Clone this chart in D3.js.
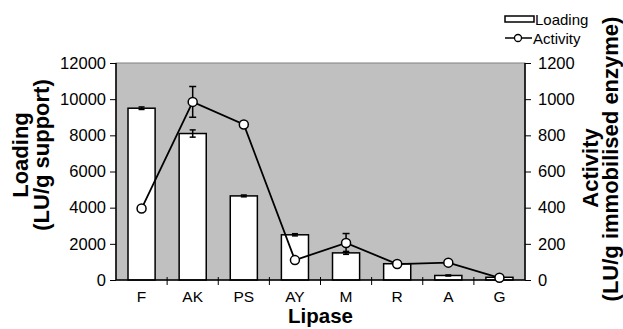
<!DOCTYPE html>
<html>
<head>
<meta charset="utf-8">
<script src="https://cdn.jsdelivr.net/npm/d3@7"></script>
<style>
  html, body { margin: 0; padding: 0; background: #fff; }
  svg { display: block; font-family: "Liberation Sans", Arial, sans-serif; }
</style>
</head>
<body>
<svg id="chart" width="623" height="329"></svg>
<script>
// Lipase immobilisation: loading (bars, left axis) and activity (line, right axis)
const categories = ["F", "AK", "PS", "AY", "M", "R", "A", "G"];
const loading = [9500, 8100, 4650, 2500, 1500, 900, 250, 150];
const loadingErr = [70, 200, 50, 60, 80, 30, 30, 20];
const activity = [395, 985, 860, 110, 205, 88, 96, 12];
const activityErr = [0, 85, 0, 0, 52, 0, 0, 0];
const loadingTicks = [0, 2000, 4000, 6000, 8000, 10000, 12000];
const activityTicks = [0, 200, 400, 600, 800, 1000, 1200];

const svg = d3.select("#chart");
const plot = { left: 116, right: 525, top: 63, bottom: 280 };

const x = d3.scaleBand()
  .domain(categories)
  .range([plot.left, plot.right])
  .paddingInner(0.47)
  .paddingOuter(0.235);
const yL = d3.scaleLinear().domain([0, 12000]).range([plot.bottom, plot.top]);
const yR = d3.scaleLinear().domain([0, 1200]).range([plot.bottom, plot.top]);
const cx = c => x(c) + x.bandwidth() / 2;

// plot area
svg.append("rect")
  .attr("x", plot.left).attr("y", plot.top)
  .attr("width", plot.right - plot.left).attr("height", plot.bottom - plot.top)
  .attr("fill", "#c0c0c0").attr("stroke", "#808080").attr("stroke-width", 1);

// bars
svg.append("g").selectAll("rect")
  .data(categories)
  .join("rect")
  .attr("x", c => x(c))
  .attr("y", (c, i) => yL(loading[i]))
  .attr("width", x.bandwidth())
  .attr("height", (c, i) => yL(0) - yL(loading[i]))
  .attr("fill", "#fff").attr("stroke", "#000").attr("stroke-width", 1.5);

// error bars helper
function errorBars(g, vals, errs, scale, cap) {
  categories.forEach((c, i) => {
    if (!errs[i]) return;
    const xc = cx(c), y1 = scale(vals[i] + errs[i]), y0 = scale(vals[i] - errs[i]);
    g.append("line").attr("x1", xc).attr("x2", xc).attr("y1", y1).attr("y2", y0);
    g.append("line").attr("x1", xc - cap).attr("x2", xc + cap).attr("y1", y1).attr("y2", y1);
    g.append("line").attr("x1", xc - cap).attr("x2", xc + cap).attr("y1", y0).attr("y2", y0);
  });
}
const ebL = svg.append("g").attr("stroke", "#000").attr("stroke-width", 1.5);
errorBars(ebL, loading, loadingErr, yL, 3);

// axes
const axL = svg.append("g")
  .attr("transform", `translate(${plot.left},0)`)
  .call(d3.axisLeft(yL).tickValues(loadingTicks).tickSize(6).tickPadding(4).tickFormat(d3.format("d")));
const axR = svg.append("g")
  .attr("transform", `translate(${plot.right},0)`)
  .call(d3.axisRight(yR).tickValues(activityTicks).tickSize(6).tickPadding(7).tickFormat(d3.format("d")));
const bounds = d3.range(categories.length + 1).map(i => plot.left + i * x.step());
const axB = svg.append("g")
  .attr("transform", `translate(0,${plot.bottom})`);
axB.append("line").attr("x1", plot.left).attr("x2", plot.right).attr("stroke", "#000").attr("stroke-width", 1.5);
axB.selectAll("line.tk").data(bounds.slice(1, -1)).join("line")
  .attr("class", "tk")
  .attr("x1", d => d).attr("x2", d => d).attr("y1", -3).attr("y2", 5)
  .attr("stroke", "#000").attr("stroke-width", 1);
axB.selectAll("text").data(categories).join("text")
  .attr("x", c => cx(c)).attr("y", 21.5)
  .attr("text-anchor", "middle")
  .attr("font-size", 15.5)
  .text(c => c);

[axL, axR].forEach(a => {
  a.select(".domain").attr("stroke", "#000").attr("stroke-width", 1.5);
  a.selectAll(".tick line").attr("stroke", "#000");
  a.selectAll("text").attr("font-size", 16.5).attr("font-family", "Liberation Sans, Arial, sans-serif").attr("fill", "#000");
});
axL.select(".domain").attr("d", `M0,${plot.top}V${plot.bottom}`);
axR.select(".domain").attr("d", `M0,${plot.top}V${plot.bottom}`);

// activity line + points
const line = d3.line().x((d, i) => cx(categories[i])).y(d => yR(d));
svg.append("path").datum(activity)
  .attr("d", line).attr("fill", "none").attr("stroke", "#000").attr("stroke-width", 1.8);
const ebR = svg.append("g").attr("stroke", "#000").attr("stroke-width", 1.5);
errorBars(ebR, activity, activityErr, yR, 3.5);
svg.append("g").selectAll("circle")
  .data(activity)
  .join("circle")
  .attr("cx", (d, i) => cx(categories[i]))
  .attr("cy", d => yR(d))
  .attr("r", 4.5)
  .attr("fill", "#fff").attr("stroke", "#000").attr("stroke-width", 1.5);

// axis titles
function vTitle(xp, yp, txt) {
  svg.append("text")
    .attr("transform", `translate(${xp},${yp}) rotate(-90)`)
    .attr("text-anchor", "middle")
    .attr("font-size", 22).attr("font-weight", "bold")
    .text(txt);
}
vTitle(28, 155, "Loading");
vTitle(49, 155, "(LU/g support)");
vTitle(598, 168, "Activity");
vTitle(618, 159, "(LU/g immobilised enzyme)");
svg.append("text")
  .attr("x", cx("AY") + x.step() / 2).attr("y", 323)
  .attr("text-anchor", "middle")
  .attr("font-size", 20.5).attr("font-weight", "bold")
  .text("Lipase");

// legend
const lg = svg.append("g");
lg.append("rect").attr("x", 505).attr("y", 16).attr("width", 29).attr("height", 6)
  .attr("fill", "#fff").attr("stroke", "#000").attr("stroke-width", 1.5);
lg.append("text").attr("x", 535).attr("y", 25).attr("font-size", 15).text("Loading");
lg.append("line").attr("x1", 505).attr("x2", 532).attr("y1", 38).attr("y2", 38)
  .attr("stroke", "#000").attr("stroke-width", 1.5);
lg.append("circle").attr("cx", 518).attr("cy", 38).attr("r", 3.5)
  .attr("fill", "#fff").attr("stroke", "#000").attr("stroke-width", 1.3);
lg.append("text").attr("x", 533).attr("y", 44).attr("font-size", 15).text("Activity");
</script>
</body>
</html>
